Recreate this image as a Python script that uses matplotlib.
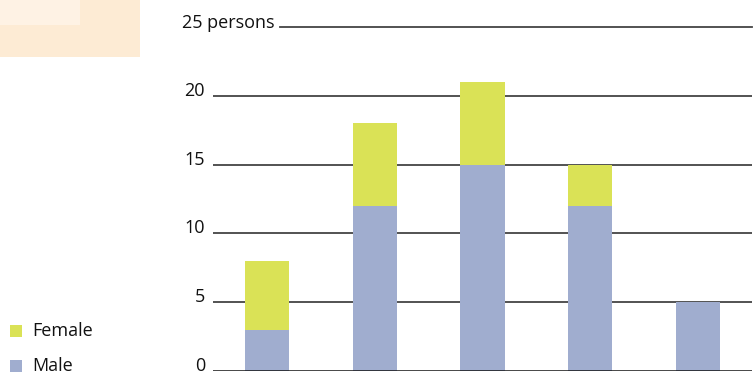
import matplotlib
matplotlib.use("Agg")
import matplotlib.pyplot as plt
from matplotlib.patches import Rectangle

groups = ["1", "2", "3", "4", "5"]
male = [3, 12, 15, 12, 5]
female = [5, 6, 6, 3, 0]
yticks = [0, 5, 10, 15, 20, 25]
ytick_labels = ["0", "5", "10", "15", "20", "25 persons"]

MALE_C = "#a0adcf"
FEMALE_C = "#dae256"
FONT = "Open Sans"
FS = 13

W, H = 755, 376
fig = plt.figure(figsize=(W / 100, H / 100), dpi=100)

# decorative panel in the top-left corner
fig.patches.append(Rectangle((0, 1 - 57 / H), 140 / W, 57 / H, transform=fig.transFigure,
                             facecolor="#fdebd4", edgecolor="none", zorder=0))
fig.patches.append(Rectangle((0, 1 - 25 / H), 80 / W, 25 / H, transform=fig.transFigure,
                             facecolor="#fef2e4", edgecolor="none", zorder=0))

ax = fig.add_axes([213 / W, 5 / H, (752 - 213) / W, (371 - 27) / H])
x = list(range(len(groups)))
ax.bar(x, male, width=0.41, color=MALE_C, zorder=2)
ax.bar(x, female, width=0.41, bottom=male, color=FEMALE_C, zorder=2)
ax.set_xlim(-0.5, 4.5)
ax.set_ylim(0, 25)

for v in yticks:
    if v == 0:
        ax.axhline(v, color="#111111", lw=1.8, zorder=3)
    elif v == 25:
        ax.plot([0.125, 1], [v, v], transform=ax.get_yaxis_transform(),
                color="#444444", lw=1.3, zorder=1, clip_on=False)
    else:
        ax.axhline(v, color="#444444", lw=1.3, zorder=1)

for v, lab in zip(yticks, ytick_labels):
    if v == 25:
        ax.text(275, 376 - 28, lab, transform=None, ha="right", va="baseline",
                fontsize=FS, family=FONT, color="#111111")
    else:
        ax.text(-0.015, v, lab, transform=ax.get_yaxis_transform(), ha="right",
                va="baseline", fontsize=FS, family=FONT, color="#111111")

for s in ax.spines.values():
    s.set_visible(False)
ax.set_xticks([])
ax.set_yticks([])
ax.patch.set_alpha(0)

# legend
for label, color, ypx in [("Female", FEMALE_C, 331), ("Male", MALE_C, 366)]:
    fig.patches.append(Rectangle((10 / W, 1 - (ypx + 6) / H), 12 / W, 12 / H,
                                 transform=fig.transFigure, facecolor=color,
                                 edgecolor="none"))
    fig.text(32 / W, 1 - ypx / H, label, ha="left", va="center", fontsize=FS,
             family=FONT, color="#111111")

fig.savefig("out.png", dpi=100)
